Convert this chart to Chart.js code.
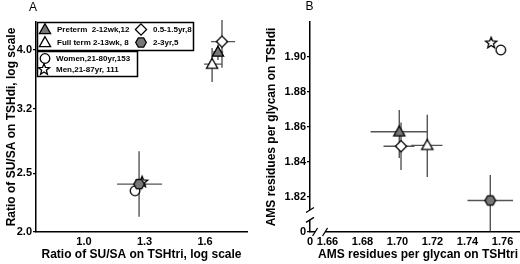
<!DOCTYPE html>
<html>
<head>
<meta charset="utf-8">
<script src="https://cdn.jsdelivr.net/npm/chart.js@4.4.1/dist/chart.umd.min.js"></script>
<style>
  html, body { margin: 0; padding: 0; background: #fff; overflow: hidden; width: 520px; height: 264px; }
  #wrapA { position: absolute; left: 0; top: 0; width: 260px; height: 264px; }
  #wrapB { position: absolute; left: 260px; top: 0; width: 280px; height: 264px; }
</style>
</head>
<body>
<div id="wrapA"><canvas id="chartA" width="260" height="264"></canvas></div>
<div id="wrapB"><canvas id="chartB" width="280" height="264"></canvas></div>
<script>
// groups, in drawing order
const groups = ["Preterm  2-12wk,12", "Full term 2-13wk, 8", "0.5-1.5yr,8", "2-3yr,5", "Women,21-80yr,153", "Men,21-87yr, 111"];
const kinds = ["triFill", "triOpen", "diamond", "hex", "circle", "star"];

// panel A: SU/SA ratio, TSHtri (x) vs TSHdi (y)
const aX = [1.664, 1.635, 1.684, 1.273, 1.253, 1.288];
const aY = [3.97, 3.79, 4.13, 2.40, 2.34, 2.42];
const aXLo = [1.640, 1.595, 1.630, 1.164, null, null];
const aXHi = [1.690, 1.684, 1.749, 1.387, null, null];
const aYLo = [3.85, 3.54, 3.74, 2.12, null, null];
const aYHi = [4.08, 4.03, 4.49, 2.72, null, null];
const aXTicks = [1.0, 1.3, 1.6];
const aYTicks = [2.0, 2.5, 3.2, 4.0];

// panel B: AMS residues per glycan
const bX = [1.701, 1.717, 1.702, 1.753, 1.759, 1.7535];
const bY = [1.8573, 1.8495, 1.849, 1.818, 1.904, 1.908];
const bXLo = [1.6846, 1.7078, 1.692, 1.740, null, null];
const bXHi = [1.7171, 1.7257, 1.7097, 1.766, null, null];
const bYLo = [1.8423, 1.8314, 1.8354, 1.8005, null, null];
const bYHi = [1.8697, 1.867, 1.8626, 1.8326, null, null];
const bXTicks = [1.65, 1.66, 1.68, 1.70, 1.72, 1.74, 1.76];
const bYTicks = [1.80, 1.82, 1.84, 1.86, 1.88, 1.90];
const bXZero = 1.65, bYZero = 1.80;          // shown as "0" below the axis break
const bXGap = [1.6529, 1.6586];
const bYGap = [1.8069, 1.8126];

const FONT = '"Liberation Sans", Arial, sans-serif';
Chart.defaults.font.family = FONT;
Chart.defaults.color = "#000";

function drawMarker(ctx, kind, x, y) {
  ctx.save();
  ctx.lineWidth = 1.3;
  ctx.strokeStyle = "#000";
  ctx.fillStyle = (kind === "triFill" || kind === "hex") ? "#777" : "#fff";
  ctx.beginPath();
  if (kind === "triFill" || kind === "triOpen") {
    ctx.moveTo(x, y - 5.8);
    ctx.lineTo(x + 5.6, y + 4.2);
    ctx.lineTo(x - 5.6, y + 4.2);
  } else if (kind === "diamond") {
    ctx.moveTo(x, y - 5.6);
    ctx.lineTo(x + 5.6, y);
    ctx.lineTo(x, y + 5.6);
    ctx.lineTo(x - 5.6, y);
  } else if (kind === "hex") {
    for (let i = 0; i < 6; i++) {
      const a = i * Math.PI / 3;
      ctx.lineTo(x + 5.3 * Math.cos(a), y + 5.3 * Math.sin(a));
    }
  } else if (kind === "circle") {
    ctx.arc(x, y, 4.8, 0, Math.PI * 2);
  } else if (kind === "star") {
    for (let i = 0; i < 10; i++) {
      const r = i % 2 ? 2.5 : 5.8;
      const a = -Math.PI / 2 + i * Math.PI / 5;
      ctx.lineTo(x + r * Math.cos(a), y + r * Math.sin(a));
    }
  }
  ctx.closePath();
  ctx.fill();
  ctx.stroke();
  ctx.restore();
}

function markerCanvas(kind) {
  const c = document.createElement("canvas");
  c.width = 16; c.height = 16;
  drawMarker(c.getContext("2d"), kind, 8, 8);
  return c;
}

function makeDatasets(xs, ys) {
  return groups.map((g, i) => ({
    label: g,
    data: [{ x: xs[i], y: ys[i] }],
    pointStyle: markerCanvas(kinds[i]),
    pointRadius: 6,
    pointHoverRadius: 6,
  }));
}

function errorBars(xs, ys, xLo, xHi, yLo, yHi) {
  return {
    id: "errorBars",
    beforeDatasetsDraw(chart) {
      const { ctx, chartArea: ca, scales: { x, y } } = chart;
      ctx.save();
      ctx.beginPath();
      ctx.rect(ca.left, ca.top - 2, ca.right - ca.left, ca.bottom - ca.top + 2);
      ctx.clip();
      ctx.strokeStyle = "#555";
      ctx.lineWidth = 1.4;
      xs.forEach((v, i) => {
        const px = x.getPixelForValue(v), py = y.getPixelForValue(ys[i]);
        ctx.beginPath();
        if (xLo[i] != null) {
          ctx.moveTo(x.getPixelForValue(xLo[i]), py);
          ctx.lineTo(x.getPixelForValue(xHi[i]), py);
        }
        if (yLo[i] != null) {
          ctx.moveTo(px, y.getPixelForValue(yLo[i]));
          ctx.lineTo(px, y.getPixelForValue(yHi[i]));
        }
        ctx.stroke();
      });
      ctx.restore();
    },
  };
}

const tickFont = { size: 11, weight: "bold" };
const titleFont = { size: 12, weight: "bold" };

function axisBase(title, width, height, isY) {
  return {
    grid: isY
      ? { display: true, drawOnChartArea: false, drawTicks: true, tickLength: 3, color: "#000", lineWidth: 1.2 }
      : { display: false, drawTicks: false, tickLength: 0 },
    border: { display: true, color: "#000", width: 1.5 },
    ticks: { color: "#000", font: tickFont, padding: isY ? 1 : 3, autoSkip: false, maxRotation: 0 },
    title: { display: true, text: title, color: "#000", font: titleFont, padding: isY ? { top: 4, bottom: 0 } : { top: 0, bottom: 2 } },
    afterFit: (s) => { if (isY) s.width = width; else s.height = height; },
  };
}

// panel A labels and legend
const decorA = {
  id: "decorA",
  afterDraw(chart) {
    const ctx = chart.ctx;
    ctx.save();
    ctx.fillStyle = "#000";
    ctx.font = "12px " + FONT;
    ctx.textAlign = "center";
    ctx.textBaseline = "middle";
    ctx.fillText("A", 33, 8);

    ctx.lineWidth = 1.5;
    ctx.strokeStyle = "#000";
    ctx.fillStyle = "#fff";
    ctx.fillRect(37.5, 22.5, 156, 28);
    ctx.strokeRect(37.5, 22.5, 156, 28);
    ctx.fillRect(37.5, 51.5, 100, 25);
    ctx.strokeRect(37.5, 51.5, 100, 25);

    const rows = [
      [0, 45, 29.5, 57], [2, 141, 29.5, 153],
      [1, 45, 42.5, 57], [3, 141, 42.5, 153],
      [4, 45, 58.5, 56], [5, 44, 69.5, 56],
    ];
    ctx.font = "bold 8px " + FONT;
    ctx.textAlign = "left";
    rows.forEach(([i, mx, my, tx]) => {
      drawMarker(ctx, kinds[i], mx, my);
      ctx.fillStyle = "#000";
      ctx.fillText(groups[i], tx, my + 0.5);
    });
    ctx.restore();
  },
};

// panel B label and axis breaks
const decorB = {
  id: "decorB",
  afterDraw(chart) {
    const { ctx, chartArea: ca, scales: { x, y } } = chart;
    ctx.save();
    ctx.fillStyle = "#000";
    ctx.font = "12px " + FONT;
    ctx.textAlign = "center";
    ctx.textBaseline = "middle";
    ctx.fillText("B", 49.5, 7);

    const ax = ca.left, ay = ca.bottom;
    const y1 = y.getPixelForValue(bYGap[1]), y2 = y.getPixelForValue(bYGap[0]);
    const x1 = x.getPixelForValue(bXGap[0]), x2 = x.getPixelForValue(bXGap[1]);
    ctx.fillStyle = "#fff";
    ctx.fillRect(ax - 2, y1, 4, y2 - y1);
    ctx.fillRect(x1, ay - 2, x2 - x1, 4);
    ctx.strokeStyle = "#000";
    ctx.lineWidth = 1.3;
    ctx.beginPath();
    [y1, y2].forEach((yy) => { ctx.moveTo(ax - 4, yy + 2.5); ctx.lineTo(ax + 4, yy - 2.5); });
    [x1, x2].forEach((xx) => { ctx.moveTo(xx - 2.5, ay + 4); ctx.lineTo(xx + 2.5, ay - 4); });
    ctx.stroke();
    ctx.restore();
  },
};

const common = {
  responsive: false,
  animation: false,
  events: [],
  plugins: { legend: { display: false }, tooltip: { enabled: false } },
};

new Chart(document.getElementById("chartA"), {
  type: "scatter",
  data: { datasets: makeDatasets(aX, aY) },
  options: {
    ...common,
    layout: { padding: { top: 22, right: 13, left: 0, bottom: 0 } },
    scales: {
      x: {
        ...axisBase("Ratio of SU/SA on TSHtri, log scale", 0, 32, false),
        type: "linear", min: 0.762, max: 1.808,
        afterBuildTicks: (s) => { s.ticks = aXTicks.map((v) => ({ value: v })); },
        ticks: { ...axisBase("", 0, 32, false).ticks, callback: (v) => Number(v).toFixed(1) },
      },
      y: {
        ...axisBase("Ratio of SU/SA on TSHdi, log scale", 36, 0, true),
        type: "logarithmic", min: 2.0, max: 4.45,
        afterBuildTicks: (s) => { s.ticks = aYTicks.map((v) => ({ value: v })); },
        ticks: { ...axisBase("", 36, 0, true).ticks, callback: (v) => Number(v).toFixed(1) },
      },
    },
  },
  plugins: [errorBars(aX, aY, aXLo, aXHi, aYLo, aYHi), decorA],
});

new Chart(document.getElementById("chartB"), {
  type: "scatter",
  data: { datasets: makeDatasets(bX, bY) },
  options: {
    ...common,
    layout: { padding: { top: 22, right: 14, left: 0, bottom: 0 } },
    scales: {
      x: {
        ...axisBase("AMS residues per glycan on TSHtri", 0, 32, false),
        type: "linear", min: 1.65, max: 1.7734,
        afterBuildTicks: (s) => { s.ticks = bXTicks.map((v) => ({ value: v })); },
        ticks: {
          ...axisBase("", 0, 32, false).ticks,
          callback: (v) => (Math.abs(v - bXZero) < 1e-9 ? "0" : Number(v).toFixed(2)),
        },
      },
      y: {
        ...axisBase("AMS residues per glycan on TSHdi", 50, 0, true),
        type: "linear", min: 1.80, max: 1.92,
        afterBuildTicks: (s) => { s.ticks = bYTicks.map((v) => ({ value: v })); },
        ticks: {
          ...axisBase("", 50, 0, true).ticks,
          callback: (v) => (Math.abs(v - bYZero) < 1e-9 ? "0" : Number(v).toFixed(2)),
        },
      },
    },
  },
  plugins: [errorBars(bX, bY, bXLo, bXHi, bYLo, bYHi), decorB],
});
</script>
</body>
</html>
